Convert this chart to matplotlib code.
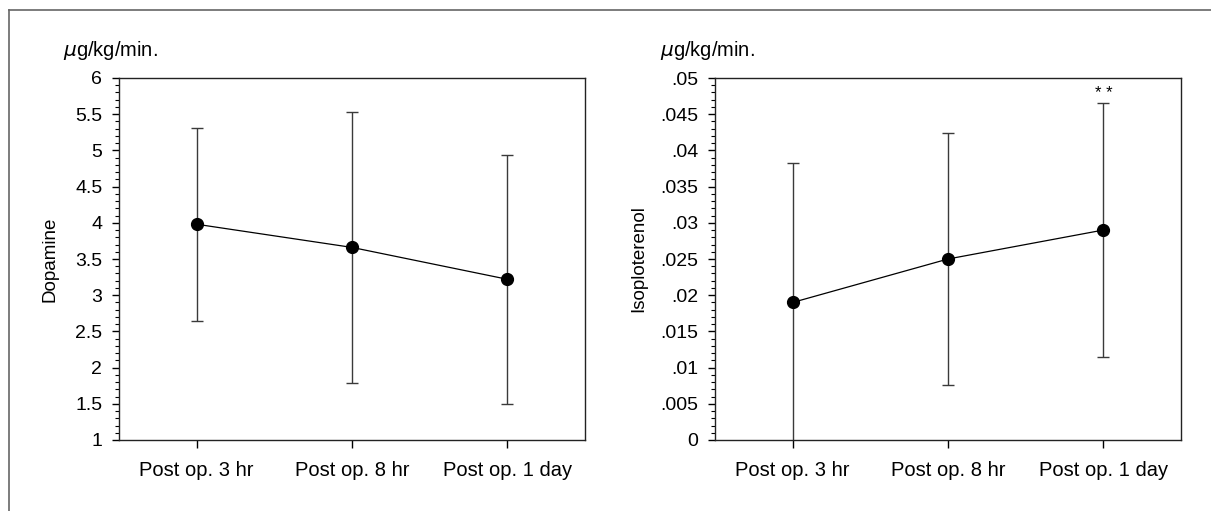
import matplotlib
matplotlib.use('Agg')
import matplotlib.pyplot as plt
from matplotlib.ticker import MultipleLocator, FuncFormatter
from matplotlib.lines import Line2D

plt.rcParams['font.family'] = ['Liberation Sans', 'DejaVu Sans']

# data
periods = ['Post op. 3 hr', 'Post op. 8 hr', 'Post op. 1 day']
dopamine_mean = [3.98, 3.66, 3.22]
dopamine_sd = [1.33, 1.87, 1.72]
iso_mean = [0.019, 0.025, 0.029]
iso_sd = [0.0193, 0.0174, 0.0175]


def fmt_iso(v, pos):
    if abs(v) < 1e-9:
        return '0'
    s = f'{v:.3f}'.rstrip('0')
    return s.replace('0.', '.', 1)


def fmt_dop(v, pos):
    return f'{v:g}'


fig = plt.figure(figsize=(12.11, 5.11), dpi=100)
W, H = 1211, 511

# outer frame (left and top edges only visible)
fig.add_artist(Line2D([9 / W, 9 / W], [0, 1 - 10 / H], color='#666666', lw=1.2))
fig.add_artist(Line2D([9 / W, 1], [1 - 10 / H, 1 - 10 / H], color='#666666', lw=1.2))

panels = [
    dict(left=119, right=585, mean=dopamine_mean, sd=dopamine_sd, ylim=(1, 6),
         major=0.5, minor=0.1, fmt=fmt_dop, ylabel='Dopamine', ylab_x=50, unit_x=63),
    dict(left=715, right=1181, mean=iso_mean, sd=iso_sd, ylim=(0, 0.05),
         major=0.005, minor=0.001, fmt=fmt_iso, ylabel='Isoploterenol', ylab_x=639, unit_x=660),
]

top, bottom = 78, 440
x = list(range(len(periods)))

for p in panels:
    ax = fig.add_axes([p['left'] / W, 1 - bottom / H,
                       (p['right'] - p['left']) / W, (bottom - top) / H])
    ax.errorbar(x, p['mean'], yerr=p['sd'], fmt='none', ecolor='#3a3a3a',
                elinewidth=1.0, capsize=4, capthick=1.0, zorder=2)
    ax.plot(x, p['mean'], color='black', lw=0.9, marker='o', markersize=8.5,
            markerfacecolor='black', markeredgecolor='black', zorder=3)
    ax.set_xlim(-0.5, 2.5)
    ax.set_ylim(*p['ylim'])
    ax.set_xticks(x)
    ax.set_xticklabels(periods, fontsize=14.5)
    ax.yaxis.set_major_locator(MultipleLocator(p['major']))
    ax.yaxis.set_minor_locator(MultipleLocator(p['minor']))
    ax.yaxis.set_major_formatter(FuncFormatter(p['fmt']))
    ax.tick_params(axis='y', which='major', length=5, width=1, labelsize=14, pad=7)
    ax.tick_params(axis='y', which='minor', length=3, width=0.8)
    ax.tick_params(axis='x', which='major', length=6, width=1, pad=9)
    for sp in ax.spines.values():
        sp.set_linewidth(1.0)
        sp.set_color('#222222')
    fig.text(p['ylab_x'] / W, 1 - 259 / H, p['ylabel'], rotation=90,
             ha='center', va='center', fontsize=13.5)
    fig.text(p['unit_x'] / W, 1 - 56 / H, '$\\mu$g/kg/min.', ha='left',
             va='baseline', fontsize=14.5)
    if p is panels[1]:
        ax.text(2, 0.0468, '* *', ha='center', va='bottom', fontsize=12)

fig.savefig('out.png', dpi=100)
